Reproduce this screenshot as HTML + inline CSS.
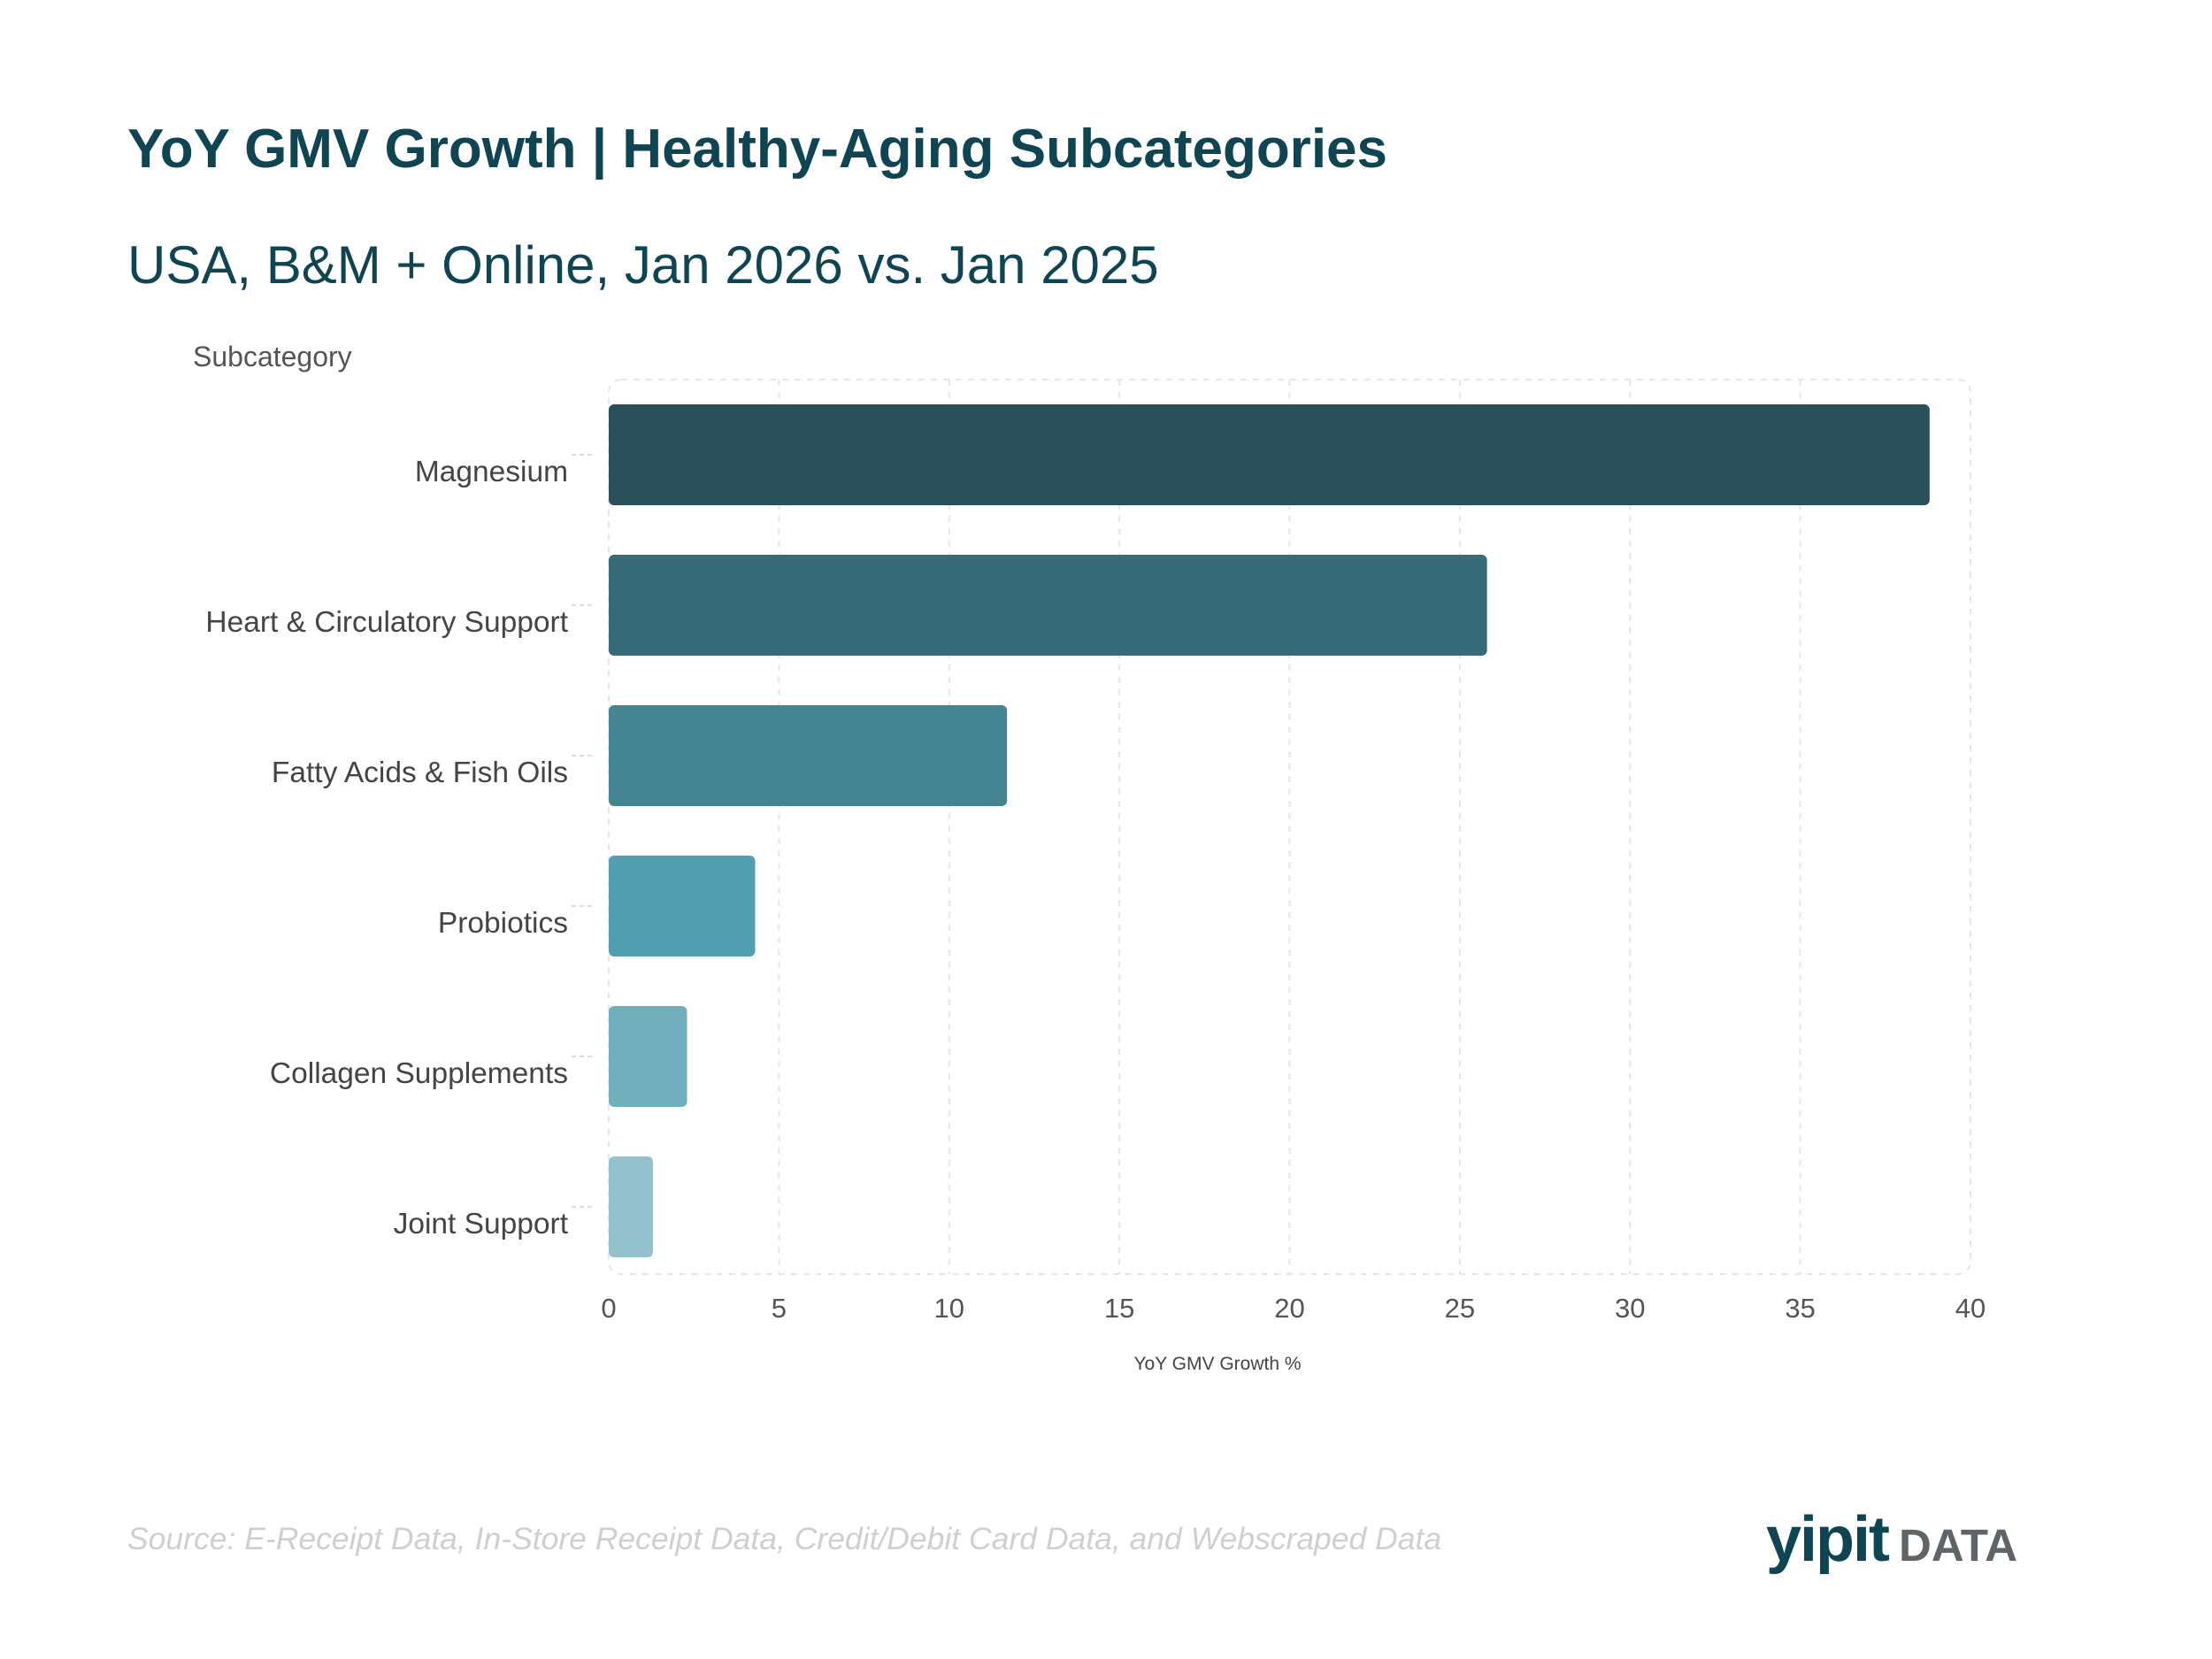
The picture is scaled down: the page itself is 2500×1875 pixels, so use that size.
<!DOCTYPE html>
<html><head><meta charset="utf-8"><style>
html,body{margin:0;padding:0;background:#fff;}
svg{display:block;font-family:"Liberation Sans",sans-serif;}
</style></head><body>
<svg id="chart" width="2500" height="1875" viewBox="0 0 2500 1875">
<text x="144" y="189" font-size="62" font-weight="bold" fill="#0f4452">YoY GMV Growth | Healthy-Aging Subcategories</text>
<text x="144" y="320" font-size="60" fill="#0f4452">USA, B&amp;M + Online, Jan 2026 vs. Jan 2025</text>
<text x="218" y="414" font-size="32" fill="#555">Subcategory</text>
<rect x="688" y="429" width="1539" height="1011" rx="14" fill="none" stroke="#e6e6e6" stroke-width="2" stroke-dasharray="7,7"/>
<g id="grid"></g><g id="bars"></g><g id="ylabels"></g><g id="xticks"></g>
<text x="1376" y="1548" font-size="21" fill="#444" text-anchor="middle">YoY GMV Growth %</text>
<text x="144" y="1751" font-size="35.5" font-style="italic" fill="#cfcfcf">Source: E-Receipt Data, In-Store Receipt Data, Credit/Debit Card Data, and Webscraped Data</text>
<g>
<text x="1996" y="1764" font-size="72" font-weight="bold" fill="#0f4452" letter-spacing="-2">yipit</text>
<text x="2146" y="1764" font-size="51" font-weight="bold" fill="#5f6566">DATA</text>
</g>
</svg>
<script>
const categories=["Magnesium","Heart & Circulatory Support","Fatty Acids & Fish Oils","Probiotics","Collagen Supplements","Joint Support"];
const values=[38.8,25.8,11.7,4.3,2.3,1.3];
const colors=["#2a515a","#376b77","#458592","#529fb0","#72afbd","#94c2cc"];
const xTicks=[0,5,10,15,20,25,30,35,40];
const NS="http://www.w3.org/2000/svg";
const x0=688,x1=2227,yTop=429,band=170,barH=114;
function xs(v){return x0+(v-0)/(40-0)*(x1-x0);}
function yc(i){return 514+i*band;}
function mk(t,a,p){const e=document.createElementNS(NS,t);for(const k in a)e.setAttribute(k,a[k]);p.appendChild(e);return e;}
const g=document.getElementById('grid'),b=document.getElementById('bars'),yl=document.getElementById('ylabels'),xt=document.getElementById('xticks');
xTicks.forEach(t=>{
 if(t>0&&t<40){const l=mk('line',{x1:xs(t),x2:xs(t),y1:yTop,y2:1440,stroke:'#e6e6e6','stroke-width':2,'stroke-dasharray':'7,7'},g);
 
 }
 const tx=mk('text',{x:xs(t),y:1489,'font-size':31,fill:'#555','text-anchor':'middle'},xt);tx.textContent=t;
 
 
});
categories.forEach((c,i)=>{
 const r=mk('rect',{x:xs(0),y:yc(i)-barH/2,width:xs(values[i])-xs(0),height:barH,rx:6,fill:colors[i]},b);
 
 
 const tk=mk('line',{x1:646,x2:672,y1:yc(i),y2:yc(i),stroke:'#ddd','stroke-width':2,'stroke-dasharray':'5,4'},yl);
 
 
 const t=mk('text',{x:642,y:yc(i)+30,'font-size':33.5,fill:'#444','text-anchor':'end'},yl);t.textContent=c;
 
 
});
</script>
</body></html>
